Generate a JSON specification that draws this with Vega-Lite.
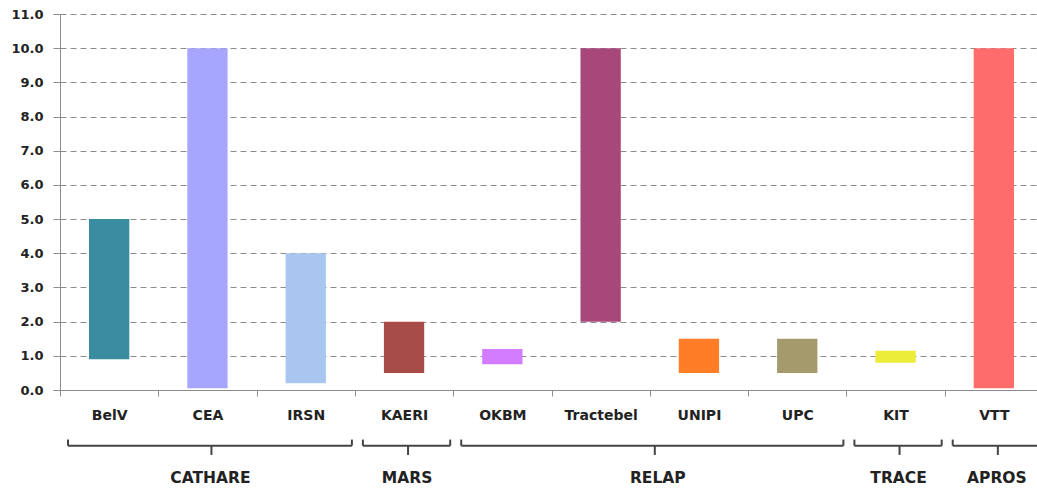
{
  "$schema": "https://vega.github.io/schema/vega-lite/v6.json",
  "width": 983,
  "height": 376,
  "autosize": {"type": "none"},
  "padding": {"left": 60, "top": 14, "right": 0, "bottom": 103},
  "background": "white",
  "config": {
    "view": {"stroke": null},
    "font": "DejaVu Sans",
    "axisX": {"title": null, "tickBand": "extent", "labelAngle": 0, "tickSize": 6, "labelPadding": 12, "domainColor": "#8c8c8c", "tickColor": "#8c8c8c", "labelFont": "DejaVu Sans", "labelFontSize": 14, "labelFontWeight": "bold", "labelColor": "#222222", "grid": false},
    "axisY": {"title": null, "labelOverlap": false, "grid": true, "gridDash": [6, 4], "gridColor": "#8c8c8c", "domainColor": "#8c8c8c", "tickColor": "#8c8c8c", "tickSize": 7, "labelFont": "DejaVu Sans", "labelFontSize": 13, "labelFontWeight": "bold", "labelColor": "#222222", "labelPadding": 10}
  },
  "datasets": {
    "bars": [
      {"org": "BelV", "low": 0.9, "high": 5.0},
      {"org": "CEA", "low": 0.05, "high": 10.0},
      {"org": "IRSN", "low": 0.2, "high": 4.0},
      {"org": "KAERI", "low": 0.5, "high": 2.0},
      {"org": "OKBM", "low": 0.75, "high": 1.2},
      {"org": "Tractebel", "low": 2.0, "high": 10.0},
      {"org": "UNIPI", "low": 0.5, "high": 1.5},
      {"org": "UPC", "low": 0.5, "high": 1.5},
      {"org": "KIT", "low": 0.8, "high": 1.15},
      {"org": "VTT", "low": 0.05, "high": 10.0}
    ],
    "groups": [
      {"group": "CATHARE", "first": "BelV", "last": "IRSN", "mid": "CEA"},
      {"group": "MARS", "first": "KAERI", "last": "KAERI", "mid": "KAERI"},
      {"group": "RELAP", "first": "OKBM", "last": "UPC", "mid": "UNIPI"},
      {"group": "TRACE", "first": "KIT", "last": "KIT", "mid": "KIT"},
      {"group": "APROS", "first": "VTT", "last": "VTT", "mid": "VTT"}
    ]
  },
  "layer": [
    {
      "data": {"name": "bars"},
      "mark": {"type": "bar", "width": {"band": 0.41}, "strokeWidth": 1, "strokeOpacity": 0.6},
      "encoding": {
        "x": {
          "field": "org", "type": "nominal", "title": null,
          "scale": {"domain": ["BelV", "CEA", "IRSN", "KAERI", "OKBM", "Tractebel", "UNIPI", "UPC", "KIT", "VTT"], "paddingInner": 0, "paddingOuter": 0},
          "axis": {"tickBand": "extent"}
        },
        "y": {
          "field": "low", "type": "quantitative", "title": null,
          "scale": {"domain": [0, 11], "nice": false, "zero": false},
          "axis": {"values": [0, 1, 2, 3, 4, 5, 6, 7, 8, 9, 10, 11], "format": ".1f", "tickCount": 12}
        },
        "y2": {"field": "high"},
        "color": {
          "field": "org", "type": "nominal", "legend": null,
          "scale": {
            "domain": ["BelV", "CEA", "IRSN", "KAERI", "OKBM", "Tractebel", "UNIPI", "UPC", "KIT", "VTT"],
            "range": ["#3a8ca0", "#a6a6ff", "#a8c6ef", "#a84c48", "#d47cff", "#a8487a", "#ff7d26", "#a49a6c", "#ecec3a", "#ff6c6c"]
          }
        }
      }
    },
    {
      "data": {"name": "groups"},
      "mark": {"type": "rule", "color": "#444444", "strokeWidth": 2, "xOffset": 8, "x2Offset": -3},
      "encoding": {
        "x": {"field": "first", "type": "nominal", "bandPosition": 0, "title": null, "axis": {"tickBand": "extent"}},
        "x2": {"field": "last", "bandPosition": 1},
        "y": {"datum": -1.63, "type": "quantitative", "title": null, "axis": {"values": [0, 1, 2, 3, 4, 5, 6, 7, 8, 9, 10, 11], "format": ".1f", "tickCount": 12}}
      }
    },
    {
      "data": {"name": "groups"},
      "mark": {"type": "rule", "color": "#444444", "strokeWidth": 2, "xOffset": 8},
      "encoding": {
        "x": {"field": "first", "type": "nominal", "bandPosition": 0, "title": null, "axis": {"tickBand": "extent"}},
        "y": {"datum": -1.63, "type": "quantitative", "title": null, "axis": {"values": [0, 1, 2, 3, 4, 5, 6, 7, 8, 9, 10, 11], "format": ".1f", "tickCount": 12}},
        "y2": {"datum": -1.45}
      }
    },
    {
      "data": {"name": "groups"},
      "mark": {"type": "rule", "color": "#444444", "strokeWidth": 2, "xOffset": -3},
      "encoding": {
        "x": {"field": "last", "type": "nominal", "bandPosition": 1, "title": null, "axis": {"tickBand": "extent"}},
        "y": {"datum": -1.63, "type": "quantitative", "title": null, "axis": {"values": [0, 1, 2, 3, 4, 5, 6, 7, 8, 9, 10, 11], "format": ".1f", "tickCount": 12}},
        "y2": {"datum": -1.45}
      }
    },
    {
      "data": {"name": "groups"},
      "transform": [{"filter": "datum.group !== 'RELAP'"}],
      "mark": {"type": "rule", "color": "#444444", "strokeWidth": 2, "xOffset": 4},
      "encoding": {
        "x": {"field": "mid", "type": "nominal", "bandPosition": 0.5, "title": null, "axis": {"tickBand": "extent"}},
        "y": {"datum": -1.63, "type": "quantitative", "title": null, "axis": {"values": [0, 1, 2, 3, 4, 5, 6, 7, 8, 9, 10, 11], "format": ".1f", "tickCount": 12}},
        "y2": {"datum": -1.9}
      }
    },
    {
      "data": {"name": "groups"},
      "transform": [{"filter": "datum.group === 'RELAP'"}],
      "mark": {"type": "rule", "color": "#444444", "strokeWidth": 2, "xOffset": 5},
      "encoding": {
        "x": {"field": "mid", "type": "nominal", "bandPosition": 0, "title": null, "axis": {"tickBand": "extent"}},
        "y": {"datum": -1.63, "type": "quantitative", "title": null, "axis": {"values": [0, 1, 2, 3, 4, 5, 6, 7, 8, 9, 10, 11], "format": ".1f", "tickCount": 12}},
        "y2": {"datum": -1.9}
      }
    },
    {
      "data": {"name": "groups"},
      "transform": [{"filter": "datum.group !== 'RELAP'"}],
      "mark": {"type": "text", "font": "DejaVu Sans", "fontSize": 15.5, "fontWeight": "bold", "color": "#222222", "baseline": "middle", "dx": 3},
      "encoding": {
        "x": {"field": "mid", "type": "nominal", "bandPosition": 0.5, "title": null, "axis": {"tickBand": "extent"}},
        "y": {"datum": -2.58, "type": "quantitative", "title": null, "axis": {"values": [0, 1, 2, 3, 4, 5, 6, 7, 8, 9, 10, 11], "format": ".1f", "tickCount": 12}},
        "text": {"field": "group"}
      }
    },
    {
      "data": {"name": "groups"},
      "transform": [{"filter": "datum.group === 'RELAP'"}],
      "mark": {"type": "text", "font": "DejaVu Sans", "fontSize": 15.5, "fontWeight": "bold", "color": "#222222", "baseline": "middle", "dx": 8},
      "encoding": {
        "x": {"field": "mid", "type": "nominal", "bandPosition": 0, "title": null, "axis": {"tickBand": "extent"}},
        "y": {"datum": -2.58, "type": "quantitative", "title": null, "axis": {"values": [0, 1, 2, 3, 4, 5, 6, 7, 8, 9, 10, 11], "format": ".1f", "tickCount": 12}},
        "text": {"field": "group"}
      }
    }
  ]
}
